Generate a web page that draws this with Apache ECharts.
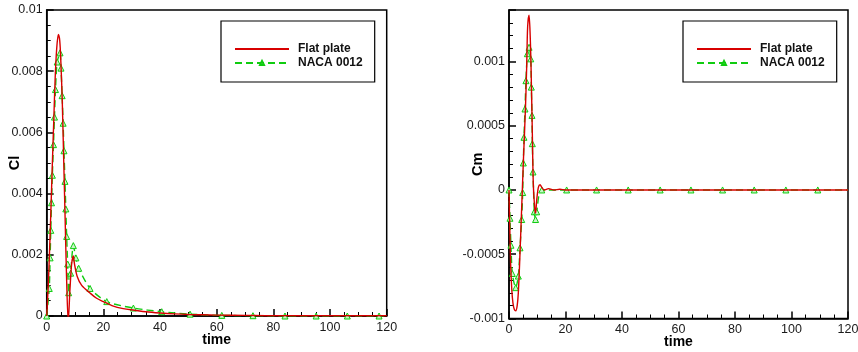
<!DOCTYPE html>
<html>
<head>
<meta charset="utf-8">
<script src="https://cdn.jsdelivr.net/npm/echarts@6/dist/echarts.min.js"></script>
<style>
html,body{margin:0;padding:0;background:#fff;}
#c{width:858px;height:352px;}
</style>
</head>
<body>
<div id="c"></div>
<script>
// ---- data ----
const seriesNames = ['Flat plate', 'NACA 0012'];
const xTicks = [0, 20, 40, 60, 80, 100, 120];

// Cl, flat plate [time, Cl]
const clFlat = [
  [0,0],[0.5,0.0009],[1.0,0.0021],[1.5,0.0035],[2.0,0.005],[2.5,0.0064],[3.0,0.0078],[3.5,0.0087],
  [4.1,0.0092],[4.6,0.009],[5.0,0.0083],[5.5,0.007],[6.0,0.0051],[6.5,0.0032],[7.0,0.0013],[7.6,-0.0002],
  [8.2,0.00085],[8.8,0.0017],[9.4,0.00196],[9.8,0.0017],[10.8,0.00128],[12.35,0.001],[15.3,0.00075],
  [17.6,0.00058],[20,0.00047],[23,0.00034],[27,0.00024],[31,0.00019],[35,0.00014],[40,0.0001],
  [45,0.00007],[50,0.00005],[60,0.00003],[70,0.00002],[80,0.00001],[120,0.00001]
];
// Cl, NACA 0012 [time, Cl]
const clNaca = [
  [0,0],[0.9,0.0009],[1.2,0.0019],[1.45,0.0028],[1.7,0.0037],[2.0,0.0046],[2.4,0.0056],[2.75,0.0065],
  [3.1,0.0074],[3.7,0.0083],[4.7,0.0086],[5.05,0.0081],[5.45,0.0072],[5.8,0.0063],[6.1,0.0054],
  [6.45,0.0044],[6.75,0.0035],[7.05,0.0026],[7.4,0.0017],[7.75,0.00076],[8.45,0.0014],[9.4,0.0023],
  [10.3,0.0019],[11.3,0.00156],[15.3,0.0009],[21.2,0.00047],[30.6,0.00026],[40.6,0.00014],
  [50.6,0.00006],[61.8,0.00002],[72.8,0.00001],[84.1,0],[95.1,0],[106.1,0],[117.3,0],[120,0]
];
// Cm, flat plate [time, Cm]
const cmFlat = [
  [0,0],[0.3,-0.00032],[0.6,-0.00059],[1.0,-0.00078],[1.4,-0.00088],[1.9,-0.00093],[2.4,-0.00094],
  [2.9,-0.0009],[3.3,-0.0008],[3.9,-0.00049],[4.5,-0.00013],[5.1,0.00023],[5.8,0.00062],[6.26,0.00096],
  [6.6,0.00127],[7.1,0.00136],[7.5,0.0012],[7.8,0.00096],[8.26,0.00044],[8.6,0.00005],[9.1,-0.00014],
  [9.4,-0.00018],[9.8,-0.00008],[10.4,0.00002],[11.0,0.00004],[11.6,0.00002],[12.5,0.0],[14,0.00001],
  [16,0.0],[18,0.000005],[20,0],[120,0]
];
// Cm, NACA 0012 [time, Cm]
const cmNaca = [
  [0,0],[0.35,-0.00022],[0.7,-0.00043],[1.17,-0.00065],[2.37,-0.00076],[3.3,-0.00067],[3.9,-0.00045],
  [4.5,-0.00023],[4.85,-0.00002],[5.07,0.00021],[5.3,0.00041],[5.66,0.00063],[6.0,0.00085],[6.5,0.00106],
  [7.1,0.00111],[7.7,0.00102],[7.9,0.0008],[8.14,0.00058],[8.26,0.00036],[8.5,0.00014],[8.96,-0.00017],
  [9.4,-0.00023],[9.8,-0.00017],[11.6,0],[20.4,0],[31,0],[42.2,0],[53.5,0],[64.4,0],[75.6,0],[86.8,0],
  [98,0],[109.3,0],[120,0]
];

// ---- styles ----
const FONT = "'Liberation Sans', Arial, Helvetica, sans-serif";
const RED = '#d80000';
const GREEN = '#10cc10';

function withLastHidden(arr) {
  return arr.map((p, i) => i === arr.length - 1 ? { value: p, symbol: 'none' } : p);
}

function xAxis(gi) {
  return {
    type: 'value', gridIndex: gi, min: 0, max: 120, interval: 20,
    name: 'time', nameLocation: 'middle', nameGap: 17, nameMoveOverlap: false,
    nameTextStyle: { fontFamily: FONT, fontWeight: 'bold', fontSize: 14, color: '#000' },
    axisLine: { onZero: false, lineStyle: { color: '#000', width: 1.5 } },
    axisTick: { inside: true, length: 7, lineStyle: { color: '#000', width: 1.5 } },
    minorTick: { show: true, splitNumber: 4, length: 4, lineStyle: { color: '#000', width: 1 } },
    axisLabel: { fontFamily: FONT, fontSize: 12.5, color: '#1a1a1a', margin: 5 },
    splitLine: { show: false }
  };
}
function yAxis(gi, name, min, max, interval, minorSplit, showMax) {
  return {
    type: 'value', gridIndex: gi, min: min, max: max, interval: interval,
    name: name, nameLocation: 'middle', nameGap: 24, nameMoveOverlap: false,
    nameTextStyle: { fontFamily: FONT, fontWeight: 'bold', fontSize: 14.5, color: '#000' },
    axisLine: { onZero: false, lineStyle: { color: '#000', width: 1.5 } },
    axisTick: { inside: true, length: 7, lineStyle: { color: '#000', width: 1.5 } },
    minorTick: { show: true, splitNumber: minorSplit, length: 4, lineStyle: { color: '#000', width: 1 } },
    axisLabel: { fontFamily: FONT, fontSize: 12.5, color: '#1a1a1a', margin: 4, showMaxLabel: showMax },
    splitLine: { show: false }
  };
}
function legend(left) {
  return {
    left: left, top: 21, orient: 'vertical',
    data: [
      { name: seriesNames[0], itemStyle: { color: 'rgba(0,0,0,0)', borderWidth: 0, opacity: 0 } },
      { name: seriesNames[1] }
    ],
    itemWidth: 54, itemHeight: 5, itemGap: 0,
    padding: [21, 12, 12, 13],
    borderColor: '#000', borderWidth: 1.2, backgroundColor: '#fff',
    textStyle: { fontFamily: FONT, fontWeight: 'bold', fontSize: 12, color: '#111', lineHeight: 14, padding: [0, 0, 0, 4] },
    selectedMode: false
  };
}
function flatSeries(data, xi) {
  return {
    name: seriesNames[0], type: 'line', xAxisIndex: xi, yAxisIndex: xi,
    data: data, showSymbol: false, symbol: 'none', smooth: 0.3,
    lineStyle: { color: RED, width: 1.4 }, itemStyle: { color: RED },
    z: 3, animation: false
  };
}
function nacaSeries(data, xi) {
  return {
    name: seriesNames[1], type: 'line', xAxisIndex: xi, yAxisIndex: xi,
    data: withLastHidden(data), symbol: 'triangle', symbolSize: 6, showSymbol: true, smooth: 0.25,
    lineStyle: { color: GREEN, width: 1.4, type: [7, 4] },
    itemStyle: { color: '#c8f5c8', borderColor: GREEN, borderWidth: 1 },
    z: 2, animation: false
  };
}

const chart = echarts.init(document.getElementById('c'), null, { renderer: 'canvas' });
chart.setOption({
  animation: false,
  backgroundColor: '#fff',
  grid: [
    { left: 46.7, top: 10, width: 340, height: 306, show: true, borderColor: '#000', borderWidth: 1.5, backgroundColor: 'transparent', outerBoundsMode: 'none', containLabel: false },
    { left: 509, top: 10, width: 339, height: 308.5, show: true, borderColor: '#000', borderWidth: 1.5, backgroundColor: 'transparent', outerBoundsMode: 'none', containLabel: false }
  ],
  xAxis: [xAxis(0), xAxis(1)],
  yAxis: [
    yAxis(0, 'Cl', 0, 0.01, 0.002, 4, true),
    yAxis(1, 'Cm', -0.001, 0.0014, 0.0005, 5, false)
  ],
  legend: [legend(221), legend(683)],
  series: [
    flatSeries(clFlat, 0), nacaSeries(clNaca, 0),
    flatSeries(cmFlat, 1), nacaSeries(cmNaca, 1)
  ]
});
</script>
</body>
</html>
